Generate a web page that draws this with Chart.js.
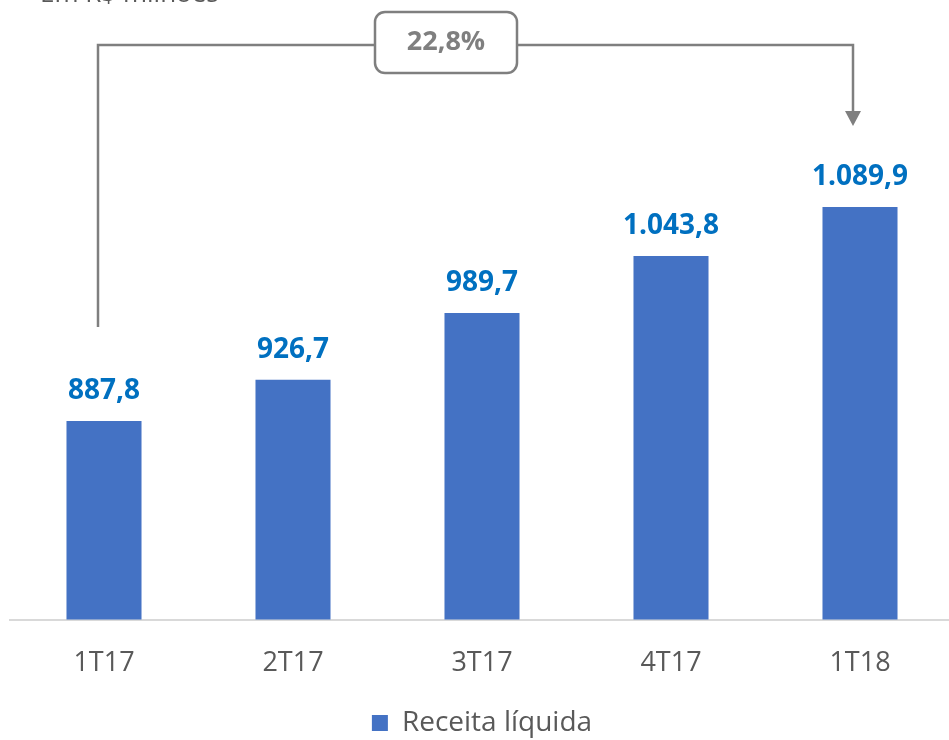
<!DOCTYPE html>
<html>
<head>
<meta charset="utf-8">
<script src="https://cdn.jsdelivr.net/npm/chart.js@4"></script>
<style>
  html, body { margin: 0; padding: 0; background: #ffffff; overflow: hidden; }
  #wrap { position: relative; width: 960px; height: 740px; }
</style>
</head>
<body>
<div id="wrap"><canvas id="c" width="960" height="740"></canvas></div>
<script>
const categories = ['1T17', '2T17', '3T17', '4T17', '1T18'];
const revenue = [887.8, 926.7, 989.7, 1043.8, 1089.9];
const valueLabels = ['887,8', '926,7', '989,7', '1.043,8', '1.089,9'];
const seriesName = 'Receita líquida';
const growthLabel = '22,8%';
const unitLabel = 'Em R$ milhões';

const FONT = '"Open Sans", "Liberation Sans", sans-serif';
const GREY = '#7f7f7f';

const annotationPlugin = {
  id: 'annot',
  afterDatasetsDraw(chart) {
    const ctx = chart.ctx;
    const bars = chart.getDatasetMeta(0).data;
    const ys = chart.scales.y;

    // value labels
    ctx.save();
    ctx.font = 'bold 28px ' + FONT;
    ctx.fillStyle = '#0070c0';
    ctx.textAlign = 'center';
    ctx.textBaseline = 'middle';
    bars.forEach((b, i) => ctx.fillText(valueLabels[i], b.x, b.y - 30));
    ctx.restore();

    // unit label (cut at top)
    ctx.save();
    ctx.font = '26px ' + FONT;
    ctx.fillStyle = '#595959';
    ctx.textAlign = 'left';
    ctx.textBaseline = 'alphabetic';
    ctx.fillText(unitLabel, 40, 2);
    ctx.restore();

    // growth connector
    const first = bars[0], last = bars[bars.length - 1];
    const x1 = first.x - 6, x2 = last.x - 7;
    const yLine = 45;
    const boxL = 375, boxR = 517, boxT = 12, boxB = 73;
    const yStart = ys.getPixelForValue(revenue[0]) - 94;
    const arrowTip = ys.getPixelForValue(revenue[revenue.length - 1]) - 81;

    ctx.save();
    ctx.strokeStyle = GREY;
    ctx.lineWidth = 2.5;
    ctx.beginPath();
    ctx.moveTo(x1, yStart);
    ctx.lineTo(x1, yLine);
    ctx.lineTo(boxL, yLine);
    ctx.moveTo(boxR, yLine);
    ctx.lineTo(x2, yLine);
    ctx.lineTo(x2, arrowTip - 14);
    ctx.stroke();

    ctx.fillStyle = GREY;
    ctx.beginPath();
    ctx.moveTo(x2 - 8, arrowTip - 15);
    ctx.lineTo(x2 + 8, arrowTip - 15);
    ctx.lineTo(x2, arrowTip);
    ctx.closePath();
    ctx.fill();

    ctx.beginPath();
    ctx.roundRect(boxL, boxT, boxR - boxL, boxB - boxT, 10);
    ctx.fillStyle = '#ffffff';
    ctx.fill();
    ctx.stroke();

    ctx.font = 'bold 27px ' + FONT;
    ctx.fillStyle = GREY;
    ctx.textAlign = 'center';
    ctx.textBaseline = 'middle';
    ctx.fillText(growthLabel, (boxL + boxR) / 2, (boxT + boxB) / 2);
    ctx.restore();
  }
};

new Chart(document.getElementById('c'), {
  type: 'bar',
  data: {
    labels: categories,
    datasets: [{
      label: seriesName,
      data: revenue,
      backgroundColor: '#4472c4',
      borderWidth: 0,
      categoryPercentage: 1,
      barPercentage: 0.397
    }]
  },
  options: {
    responsive: false,
    animation: false,
    events: [],
    layout: { padding: { left: 9.5, right: 5.5, top: 6, bottom: -7 } },
    plugins: {
      tooltip: { enabled: false },
      legend: {
        position: 'bottom',
        labels: {
          boxWidth: 16,
          boxHeight: 16,
          padding: 1,
          color: '#595959',
          font: { family: FONT, size: 28 }
        }
      }
    },
    scales: {
      x: {
        grid: { display: false, drawTicks: false },
        border: { display: true, color: '#d9d9d9', width: 2 },
        ticks: { color: '#595959', padding: 28, font: { family: FONT, size: 27 } }
      },
      y: {
        display: false,
        min: 700,
        max: 1280
      }
    }
  },
  plugins: [annotationPlugin]
});
</script>
</body>
</html>
